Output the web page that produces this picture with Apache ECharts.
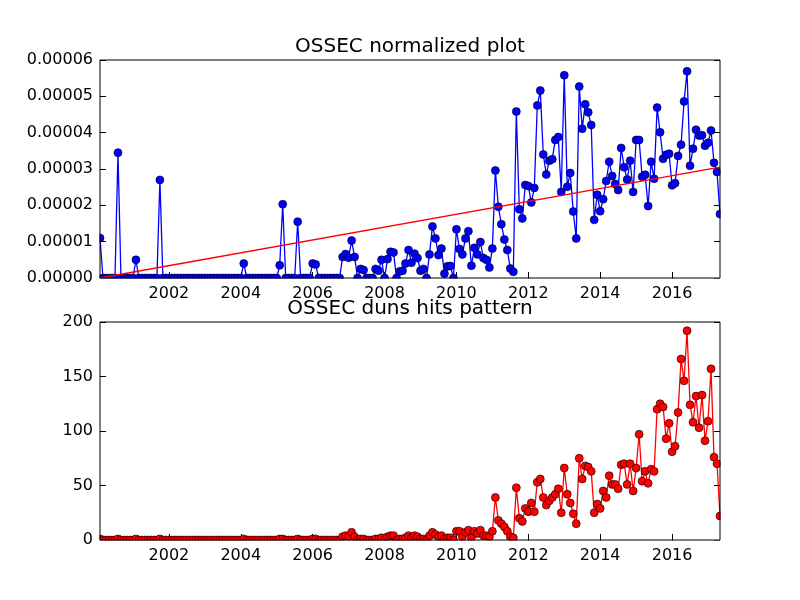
<!DOCTYPE html>
<html>
<head>
<meta charset="utf-8">
<title>OSSEC</title>
<script src="https://cdn.jsdelivr.net/npm/echarts@6.0.0/dist/echarts.min.js"></script>
<style>
    html, body { margin: 0; padding: 0; background: #fff; }
    #chart { width: 800px; height: 600px; }
</style>
</head>
<body>
<div id="chart"></div>
<script>
// first month in the data (Feb 2000), one point per month
var startYear = 2000;
var startMonth = 2;

// normalized values, in units of 1e-5
var normScale = 1e-5;
var normVals = [
    1.1, 0, 0, 0, 0, 0, 3.45, 0, 0, 0, 0, 0,
    0.5, 0, 0, 0, 0, 0, 0, 0, 2.7, 0, 0, 0,
    0, 0, 0, 0, 0, 0, 0, 0, 0, 0, 0, 0,
    0, 0, 0, 0, 0, 0, 0, 0, 0, 0, 0, 0,
    0.4, 0, 0, 0, 0, 0, 0, 0, 0, 0, 0, 0,
    0.35, 2.03, 0, 0, 0, 0, 1.55, 0, 0, 0, 0, 0.4,
    0.37, 0, 0, 0, 0, 0, 0, 0, 0, 0.58, 0.66, 0.56,
    1.03, 0.58, 0, 0.25, 0.22, 0, 0, 0, 0.25, 0.2, 0.5, 0,
    0.52, 0.72, 0.7, 0, 0.18, 0.2, 0.4, 0.77, 0.42, 0.67, 0.55, 0.2,
    0.25, 0, 0.65, 1.42, 1.09, 0.63, 0.81, 0.12, 0.32, 0.33, 0, 1.34,
    0.8, 0.65, 1.09, 1.29, 0.34, 0.83, 0.65, 0.99, 0.55, 0.5, 0.29, 0.81,
    2.96, 1.96, 1.48, 1.06, 0.77, 0.26, 0.17, 4.58, 1.89, 1.64, 2.56, 2.53,
    2.08, 2.48, 4.75, 5.16, 3.4, 2.85, 3.23, 3.27, 3.8, 3.88, 2.37, 5.58,
    2.51, 2.89, 1.83, 1.09, 5.27, 4.11, 4.78, 4.56, 4.21, 1.6, 2.29, 1.84,
    2.17, 2.67, 3.2, 2.81, 2.59, 2.42, 3.58, 3.05, 2.71, 3.23, 2.37, 3.8,
    3.8, 2.79, 2.84, 1.98, 3.2, 2.73, 4.69, 4.01, 3.28, 3.39, 3.42, 2.55,
    2.61, 3.36, 3.67, 4.86, 5.69, 3.09, 3.56, 4.08, 3.92, 3.93, 3.64, 3.72,
    4.06, 3.17, 2.92, 1.76
];

// raw hits per month
var hitVals = [
    1, 0, 0, 0, 0, 0, 1, 0, 0, 0, 0, 0,
    1, 0, 0, 0, 0, 0, 0, 0, 1, 0, 0, 0,
    0, 0, 0, 0, 0, 0, 0, 0, 0, 0, 0, 0,
    0, 0, 0, 0, 0, 0, 0, 0, 0, 0, 0, 0,
    1, 0, 0, 0, 0, 0, 0, 0, 0, 0, 0, 0,
    1, 1, 0, 0, 0, 0, 1, 0, 0, 0, 0, 1,
    1, 0, 0, 0, 0, 0, 0, 0, 0, 3, 4, 3,
    7, 3, 0, 1, 1, 0, 0, 0, 1, 1, 2, 0,
    3, 4, 4, 0, 1, 1, 2, 4, 2, 4, 3, 1,
    1, 0, 4, 7, 5, 3, 4, 1, 2, 2, 0, 8,
    8, 3, 7, 9, 2, 8, 6, 9, 4, 4, 3, 8,
    39, 18, 15, 12, 8, 3, 2, 48, 20, 17, 29, 26,
    34, 26, 53, 56, 39, 32, 36, 39, 42, 47, 25, 66,
    42, 34, 24, 15, 75, 56, 68, 67, 63, 25, 33, 29,
    45, 39, 59, 51, 51, 47, 69, 70, 51, 70, 45, 66,
    97, 54, 63, 52, 65, 63, 120, 125, 122, 93, 107, 81,
    86, 117, 166, 146, 192, 124, 108, 132, 103, 133, 91, 109,
    157, 76, 70, 22
];

// linear trend of the normalized values, start and end
var trendVals = [0, 3.05];

var yearTicks = [2002, 2004, 2006, 2008, 2010, 2012, 2014, 2016];
var normTicks = [0, 0.00001, 0.00002, 0.00003, 0.00004, 0.00005, 0.00006];
var hitTicks = [0, 50, 100, 150, 200];

var font = 'DejaVu Sans';

// month index -> fractional year
function monthToYear(i) {
    return startYear + (startMonth - 1 + i) / 12;
}

function buildSeries(vals, scale) {
    var out = [];
    for (var i = 0; i < vals.length; i++) {
        out.push([monthToYear(i), vals[i] * scale]);
    }
    return out;
}

function xAxisPair(gridIndex, xMin, xMax) {
    var base = {
        type: 'value',
        gridIndex: gridIndex,
        min: xMin,
        max: xMax,
        axisLine: { show: false },
        splitLine: { show: false },
        axisTick: {
            inside: true, length: 6, customValues: yearTicks,
            lineStyle: { color: '#000', width: 1 }
        }
    };
    var bottom = Object.assign({}, base, {
        position: 'bottom',
        axisLabel: {
            customValues: yearTicks, margin: 8,
            fontFamily: font, fontSize: 16, color: '#000',
            formatter: function (v) { return String(Math.round(v)); }
        }
    });
    var top = Object.assign({}, base, {
        position: 'top',
        axisLabel: { show: false }
    });
    return [bottom, top];
}

function yAxisPair(gridIndex, ticks, fmt) {
    var base = {
        type: 'value',
        gridIndex: gridIndex,
        min: ticks[0],
        max: ticks[ticks.length - 1],
        interval: ticks[1] - ticks[0],
        axisLine: { show: false },
        splitLine: { show: false },
        axisTick: { inside: true, length: 6, lineStyle: { color: '#000', width: 1 } }
    };
    var left = Object.assign({}, base, {
        position: 'left',
        axisLabel: {
            margin: 7, fontFamily: font, fontSize: 16, color: '#000',
            formatter: fmt
        }
    });
    var right = Object.assign({}, base, {
        position: 'right',
        axisLabel: { show: false }
    });
    return [left, right];
}

function generateChart() {
    var myChart = echarts.init(document.getElementById('chart'));

    var xMin = monthToYear(0);
    var xMax = monthToYear(normVals.length - 1);

    // plot boxes, matplotlib default subplot layout
    var boxes = [
        { left: 100, top: 60, width: 620, height: 218 },
        { left: 100, top: 322, width: 620, height: 218 }
    ];

    var graphics = [];
    // white masks so markers are clipped at the box edges
    boxes.forEach(function (b) {
        var m = 7;
        graphics.push({ type: 'rect', z: 100, shape: { x: b.left - m, y: b.top + b.height + 0.5, width: b.width + 2 * m, height: m }, style: { fill: '#fff' } });
        graphics.push({ type: 'rect', z: 100, shape: { x: b.left - m, y: b.top, width: m - 0.5, height: b.height + 1 }, style: { fill: '#fff' } });
        graphics.push({ type: 'rect', z: 100, shape: { x: b.left + b.width + 0.5, y: b.top, width: m, height: b.height + 1 }, style: { fill: '#fff' } });
        graphics.push({ type: 'rect', z: 101, shape: { x: b.left, y: b.top, width: b.width, height: b.height }, style: { fill: 'none', stroke: '#000', lineWidth: 1 } });
    });
    // titles
    graphics.push({ type: 'text', z: 102, x: 410, y: 47, style: { text: 'OSSEC normalized plot', font: '20px "DejaVu Sans"', fill: '#000', textAlign: 'center', textVerticalAlign: 'middle' } });
    graphics.push({ type: 'text', z: 102, x: 410, y: 309, style: { text: 'OSSEC duns hits pattern', font: '20px "DejaVu Sans"', fill: '#000', textAlign: 'center', textVerticalAlign: 'middle' } });

    var option = {
        animation: false,
        backgroundColor: '#fff',
        grid: boxes.map(function (b) {
            return { left: b.left, top: b.top, width: b.width, height: b.height, show: false };
        }),
        xAxis: xAxisPair(0, xMin, xMax).concat(xAxisPair(1, xMin, xMax)),
        yAxis: yAxisPair(0, normTicks, function (v) { return v.toFixed(5); })
            .concat(yAxisPair(1, hitTicks, function (v) { return String(Math.round(v)); })),
        series: [
            {
                name: 'normalized',
                type: 'line',
                xAxisIndex: 0, yAxisIndex: 0,
                data: buildSeries(normVals, normScale),
                showAllSymbol: true,
                symbol: 'circle', symbolSize: 8,
                itemStyle: { color: '#0000ff', borderColor: '#000', borderWidth: 0.6 },
                lineStyle: { color: '#0000ff', width: 1.3 },
                z: 2
            },
            {
                name: 'trend',
                type: 'line',
                xAxisIndex: 0, yAxisIndex: 0,
                data: [[xMin, trendVals[0] * normScale], [xMax, trendVals[1] * normScale]],
                symbol: 'none',
                lineStyle: { color: '#ff0000', width: 1.3 },
                z: 3
            },
            {
                name: 'hits',
                type: 'line',
                xAxisIndex: 2, yAxisIndex: 2,
                data: buildSeries(hitVals, 1),
                showAllSymbol: true,
                symbol: 'circle', symbolSize: 8,
                itemStyle: { color: '#ff0000', borderColor: '#000', borderWidth: 0.6 },
                lineStyle: { color: '#ff0000', width: 1.3 },
                z: 2
            }
        ],
        graphic: graphics
    };

    myChart.setOption(option);
}

generateChart();
</script>
</body>
</html>
